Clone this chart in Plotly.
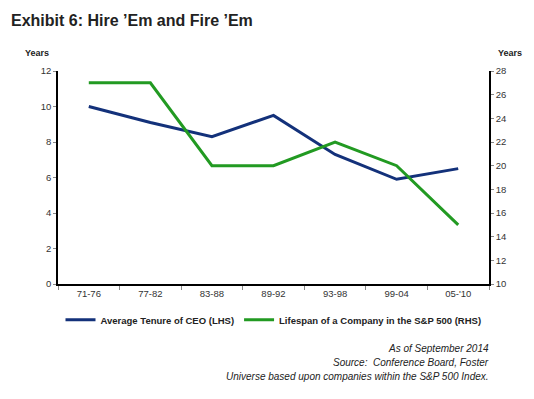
import plotly.graph_objects as go

periods = ["71-76", "77-82", "83-88", "89-92", "93-98", "99-04", "05-'10"]
ceo_tenure = [10.0, 9.1, 8.3, 9.5, 7.3, 5.9, 6.5]
sp500_lifespan = [27, 27, 20, 20, 22, 20, 15]

navy = "#13317a"
green = "#229a22"
tick_font = dict(family="Liberation Sans, Arial", size=9.5, color="#333333")

fig = go.Figure()
fig.add_trace(go.Scatter(x=periods, y=ceo_tenure, mode="lines", name="<b>Average Tenure of CEO (LHS)</b>",
                         line=dict(color=navy, width=3), yaxis="y"))
fig.add_trace(go.Scatter(x=periods, y=sp500_lifespan, mode="lines",
                         name="<b>Lifespan of a Company in the S&P 500 (RHS)</b>",
                         line=dict(color=green, width=3), yaxis="y2"))

fig.update_layout(
    width=534, height=399,
    margin=dict(l=58, r=45, t=71, b=115),
    paper_bgcolor="white", plot_bgcolor="white",
    font=dict(family="Liberation Sans, Arial", size=9, color="#222222"),
    xaxis=dict(type="category", tickson="boundaries", ticks="outside", ticklen=4, tickcolor="#888888",
               showline=True, linecolor="black", linewidth=1.5, showgrid=False, tickfont=tick_font,
               range=[-0.5, 6.5]),
    yaxis=dict(range=[0, 12], dtick=2, ticks="outside", ticklen=3, tickcolor="#888888",
               showline=True, linecolor="black", linewidth=1.5, showgrid=False, zeroline=False,
               tickfont=tick_font),
    yaxis2=dict(range=[10, 28], dtick=2, overlaying="y", side="right", ticks="outside", ticklen=3,
                tickcolor="#888888", showline=True, linecolor="black", linewidth=1.5, showgrid=False,
                zeroline=False, tickfont=tick_font),
    legend=dict(orientation="h", x=0.5, xanchor="center", y=-0.1, yanchor="top",
                font=dict(family="Liberation Sans, Arial", size=9.5, color="#222222"),
                itemwidth=30, tracegroupgap=0),
    showlegend=True,
)

fig.add_annotation(text="<b>Exhibit 6: Hire ’Em and Fire ’Em</b>", xref="paper", yref="paper",
                   x=-49/431, y=1 + (71 - 20) / 213, xanchor="left", yanchor="middle", showarrow=False,
                   font=dict(family="Liberation Sans, Arial", size=16, color="#222222"))
fig.add_annotation(text="<b>Years</b>", xref="paper", yref="paper", x=-21/431, y=1 + (71 - 53) / 213,
                   xanchor="center", yanchor="middle", showarrow=False,
                   font=dict(family="Liberation Sans, Arial", size=9, color="#222222"))
fig.add_annotation(text="<b>Years</b>", xref="paper", yref="paper", x=1 + 21/431, y=1 + (71 - 53) / 213,
                   xanchor="center", yanchor="middle", showarrow=False,
                   font=dict(family="Liberation Sans, Arial", size=9, color="#222222"))

notes = ["As of September 2014", "Source:  Conference Board, Foster",
         "Universe based upon companies within the S&P 500 Index."]
for i, t in enumerate(notes):
    ypix = 348 + i * 14.5
    fig.add_annotation(text="<i>" + t + "</i>", xref="paper", yref="paper", x=(491 - 58) / 431,
                       y=(284 - ypix) / 213, xanchor="right", yanchor="middle", showarrow=False,
                       font=dict(family="Liberation Sans, Arial", size=10, color="#222222"))

fig.write_html("out.html")
